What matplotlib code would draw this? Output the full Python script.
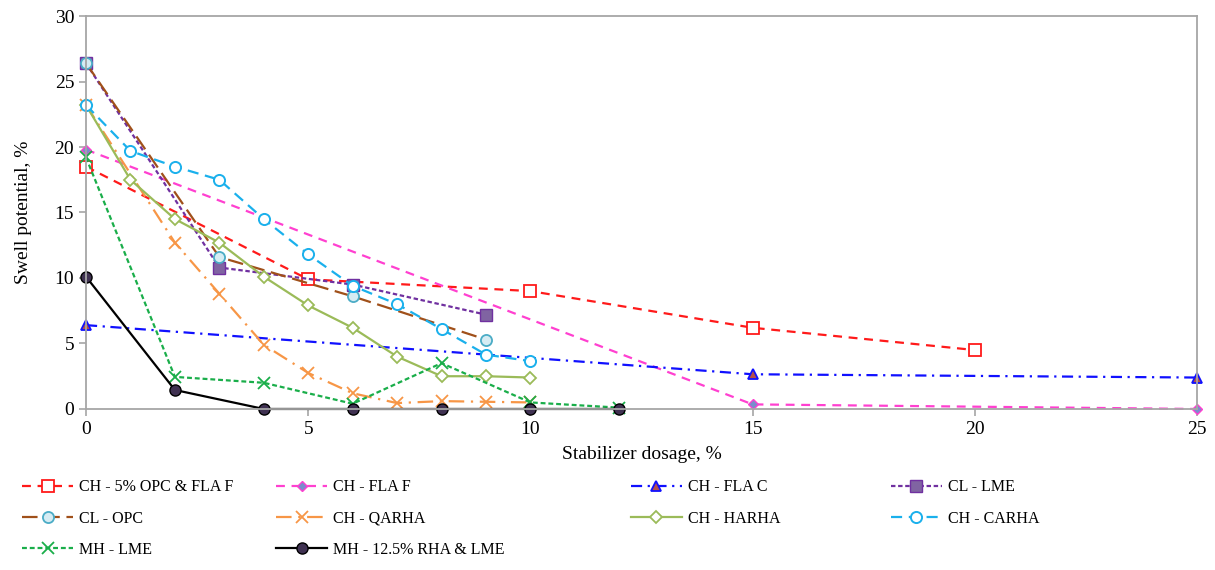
import matplotlib
matplotlib.use("Agg")
import matplotlib.pyplot as plt

plt.rcParams['font.family'] = ['Liberation Serif', 'DejaVu Serif']

# data
x_opc_flaf = [0, 5, 10, 15, 20]
y_opc_flaf = [18.5, 9.9, 9.0, 6.2, 4.5]

x_flaf = [0, 15, 25]
y_flaf = [19.8, 0.35, 0.0]

x_flac = [0, 15, 25]
y_flac = [6.4, 2.65, 2.4]

x_cl_lme = [0, 3, 6, 9]
y_cl_lme = [26.4, 10.8, 9.5, 7.2]

x_cl_opc = [0, 3, 6, 9]
y_cl_opc = [26.4, 11.6, 8.6, 5.3]

x_qarha = [0, 2, 3, 4, 5, 6, 7, 8, 9, 10]
y_qarha = [23.2, 12.7, 8.8, 4.9, 2.75, 1.2, 0.45, 0.6, 0.55, 0.5]

x_harha = [0, 1, 2, 3, 4, 5, 6, 7, 8, 9, 10]
y_harha = [23.2, 17.5, 14.5, 12.7, 10.1, 7.9, 6.2, 4.0, 2.5, 2.5, 2.4]

x_carha = [0, 1, 2, 3, 4, 5, 6, 7, 8, 9, 10]
y_carha = [23.2, 19.7, 18.5, 17.5, 14.5, 11.8, 9.4, 8.0, 6.1, 4.15, 3.65]

x_mh_lme = [0, 2, 4, 6, 8, 10, 12]
y_mh_lme = [19.2, 2.45, 2.0, 0.4, 3.5, 0.5, 0.1]

x_mh_rha = [0, 2, 4, 6, 8, 10, 12]
y_mh_rha = [10.1, 1.45, 0.0, 0.0, 0.0, 0.0, 0.0]

labels = ['CH - 5% OPC & FLA F', 'CH - FLA F', 'CH - FLA C', 'CL - LME',
          'CL - OPC', 'CH - QARHA', 'CH - HARHA', 'CH - CARHA',
          'MH - LME', 'MH - 12.5% RHA & LME']

fig = plt.figure(figsize=(12.15, 5.7), dpi=100)
ax = fig.add_axes([0.0708, 0.2825, 0.9144, 0.6894])

lw = 1.6
h = []
h += ax.plot(x_opc_flaf, y_opc_flaf, color='#ff1a1a', ls=(0, (4, 3)), lw=lw,
             marker='s', ms=8, mfc='white', mec='#ff1a1a', mew=1.3)
h += ax.plot(x_flaf, y_flaf, color='#ff40d0', ls=(0, (4, 3)), lw=lw,
             marker='D', ms=5.5, mfc='#7a8ccc', mec='#ff40d0', mew=1.0)
h += ax.plot(x_flac, y_flac, color='#1010ff', ls=(0, (5, 2.5, 1, 2.5)), lw=lw,
             marker='^', ms=7, mfc='#b5504a', mec='#1010ff', mew=1.3)
h += ax.plot(x_cl_lme, y_cl_lme, color='#7030a0', ls=(0, (2, 1.2)), lw=lw,
             marker='s', ms=8, mfc='#8064a2', mec='#7030a0', mew=1.0)
h += ax.plot(x_cl_opc, y_cl_opc, color='#a0501a', ls=(0, (7, 3)), lw=lw,
             marker='o', ms=8, mfc='#d6ecf3', mec='#4bacc6', mew=1.3)
h += ax.plot(x_qarha, y_qarha, color='#f79646', ls=(0, (7, 3, 1, 3)), lw=lw,
             marker='x', ms=8, mec='#f79646', mew=1.3)
h += ax.plot(x_harha, y_harha, color='#9bbb59', ls='-', lw=lw,
             marker='D', ms=6, mfc='white', mec='#9bbb59', mew=1.3)
h += ax.plot(x_carha, y_carha, color='#1ab0ec', ls=(0, (5, 3)), lw=lw,
             marker='o', ms=8, mfc='white', mec='#1ab0ec', mew=1.4)
h += ax.plot(x_mh_lme, y_mh_lme, color='#1aae4a', ls=(0, (2.2, 1.3)), lw=lw,
             marker='x', ms=8, mec='#1aae4a', mew=1.3)
h += ax.plot(x_mh_rha, y_mh_rha, color='black', ls='-', lw=lw,
             marker='o', ms=8, mfc='#3f3151', mec='black', mew=1.0)

ax.set_xlim(0, 25)
ax.set_ylim(0, 30)
ax.set_xticks([0, 5, 10, 15, 20, 25])
ax.set_yticks([0, 5, 10, 15, 20, 25, 30])
for s in ax.spines.values():
    s.set_color('#a6a6a6')
    s.set_linewidth(1.3)
ax.tick_params(colors='#a6a6a6', labelcolor='black', labelsize=14,
               length=5, width=1.2, direction='out')
ax.set_xlabel('Stabilizer dosage, %', fontsize=14, labelpad=6)
ax.set_ylabel('Swell potential, %', fontsize=14, labelpad=16)
for l in h:
    l.set_clip_on(False)

# Excel-style legend: four separate columns
cols = [([0, 4, 8], 0.013), ([1, 5, 9], 0.222), ([2, 6], 0.514), ([3, 7], 0.728)]
for idx, xpos in cols:
    fig.legend([h[i] for i in idx], [labels[i] for i in idx],
               loc='upper left', bbox_to_anchor=(xpos, 0.17), frameon=False,
               fontsize=11.5, handlelength=3.2, handletextpad=0.35,
               labelspacing=0.95, borderaxespad=0)

fig.savefig('out.png', dpi=100)
